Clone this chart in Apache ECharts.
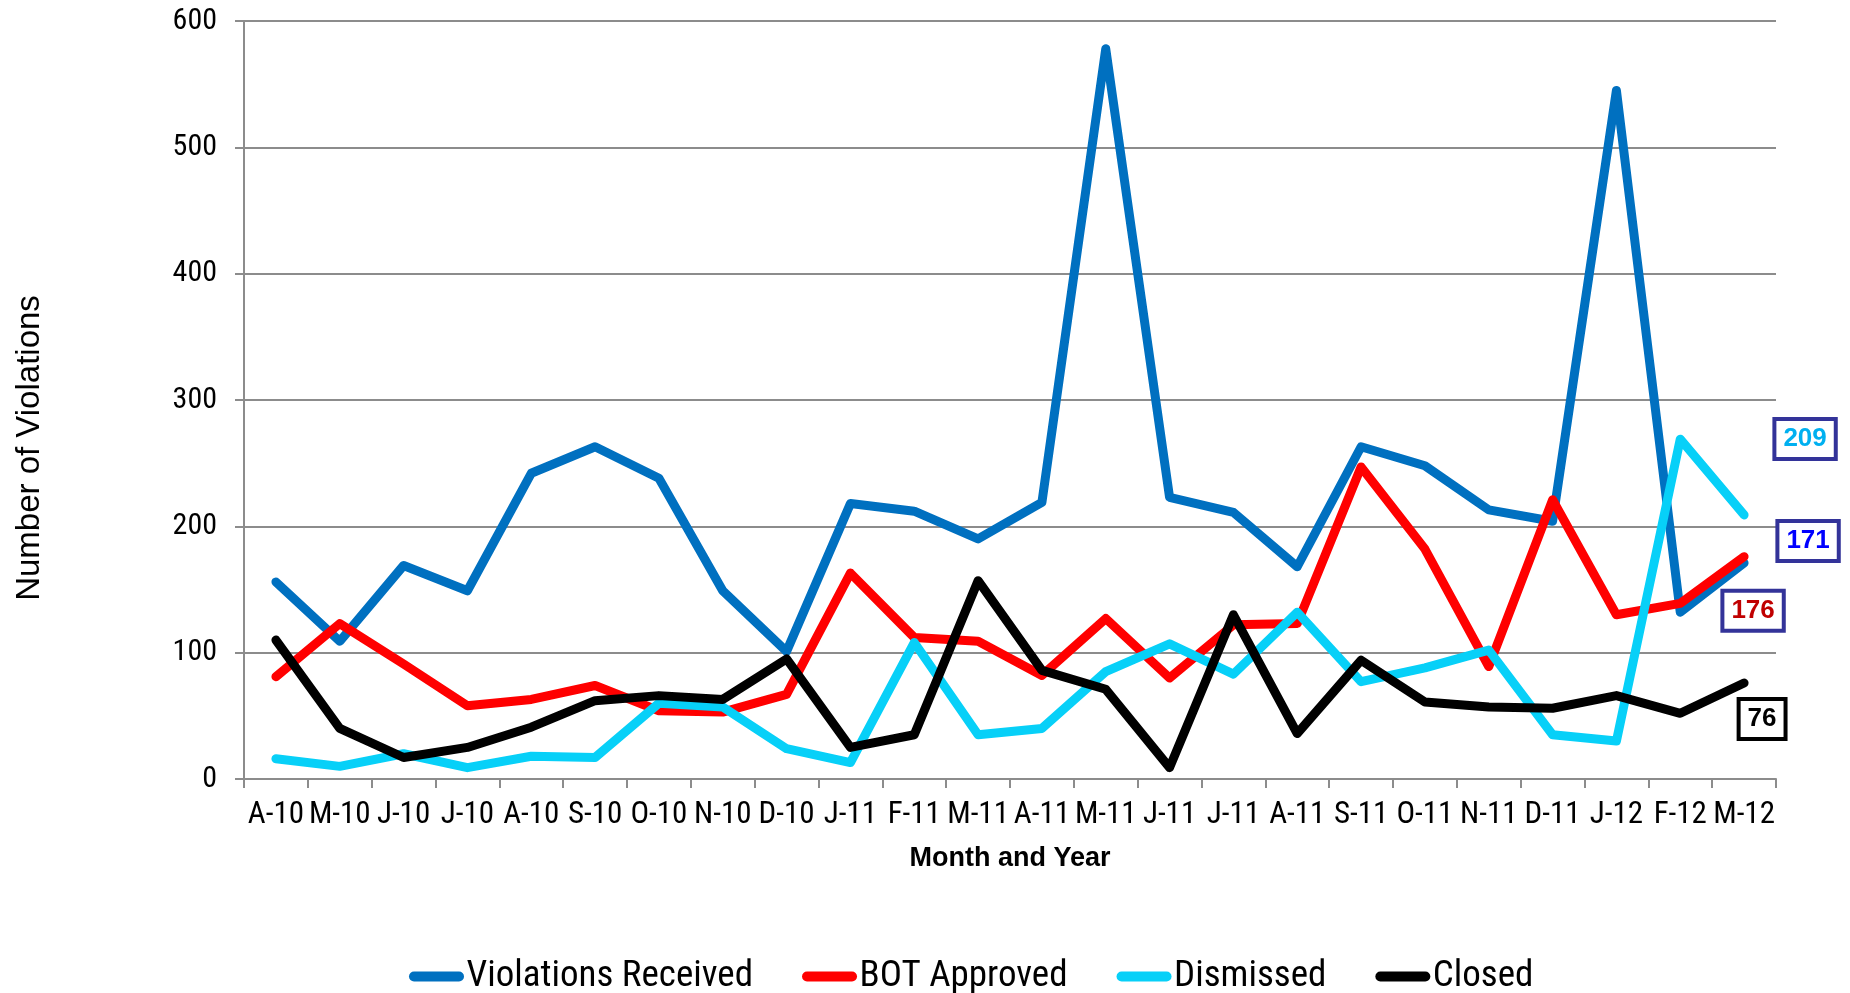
<!DOCTYPE html>
<html>
<head>
<meta charset="utf-8">
<script src="https://cdn.jsdelivr.net/npm/echarts@6/dist/echarts.min.js"></script>
<style>
	html, body { margin: 0; padding: 0; background: #fff; }
	#chart { width: 1850px; height: 993px; }
</style>
</head>
<body>
<div id="chart"></div>
<script>
var months = ['A-10', 'M-10', 'J-10', 'J-10', 'A-10', 'S-10', 'O-10', 'N-10', 'D-10', 'J-11', 'F-11', 'M-11',
	'A-11', 'M-11', 'J-11', 'J-11', 'A-11', 'S-11', 'O-11', 'N-11', 'D-11', 'J-12', 'F-12', 'M-12'];
var received = [156, 109, 169, 149, 242, 263, 238, 149, 101, 218, 212, 190, 219, 578, 223, 211, 168, 263, 248, 213, 204, 545, 132, 171];
var botApproved = [81, 123, 91, 58, 63, 74, 54, 53, 67, 163, 112, 109, 82, 127, 80, 122, 123, 247, 182, 89, 221, 130, 139, 176];
var dismissed = [16, 10, 20, 9, 18, 17, 60, 57, 24, 13, 108, 35, 40, 85, 107, 83, 132, 77, 88, 102, 35, 30, 269, 209];
// not "closed": that name is taken by window.closed
var closedCases = [110, 40, 17, 25, 41, 62, 66, 63, 95, 25, 35, 157, 86, 71, 9, 130, 36, 94, 61, 57, 56, 66, 52, 76];
var yTicks = [0, 100, 200, 300, 400, 500, 600];

// no narrow font installed by name, but Roboto has a width axis: squeeze it on every canvas
var fontDesc = Object.getOwnPropertyDescriptor(CanvasRenderingContext2D.prototype, 'font');
Object.defineProperty(CanvasRenderingContext2D.prototype, 'font', {
	get : fontDesc.get,
	set : function(v) {
		fontDesc.set.call(this, v);
		this.fontStretch = v.indexOf('Roboto') >= 0 ? 'semi-condensed' : 'normal';
	}
});

var narrow = 'Roboto, "Liberation Sans", sans-serif';
var arial = '"Liberation Sans", Arial, sans-serif';
var pill = 'path://M5,0 L50,0 A5,5 0 0 1 50,10 L5,10 A5,5 0 0 1 5,0 Z';

// boxed value on the last point of a series
function endBox(data, textColor, borderColor, offset) {
	var last = data.length - 1;
	return {
		silent : true,
		symbol : 'circle',
		symbolSize : 1,
		itemStyle : { color : 'transparent' },
		label : {
			show : true,
			position : 'inside',
			offset : offset,
			formatter : '{c}',
			fontFamily : arial,
			fontWeight : 'bold',
			fontSize : 26,
			lineHeight : 26,
			color : textColor,
			backgroundColor : '#fff',
			borderColor : borderColor,
			borderWidth : 4,
			padding : [ 6, 7, 4, 7 ]
		},
		data : [ { coord : [ last, data[last] ], value : data[last] } ]
	};
}

function lineSeries(name, data, color, box) {
	return {
		name : name,
		type : 'line',
		data : data,
		showSymbol : false,
		symbol : 'none',
		lineStyle : { width : 9, color : color, join : 'round', cap : 'round' },
		itemStyle : { color : color },
		markPoint : box
	};
}

var myChart = echarts.init(document.getElementById('chart'));
var option = {
	animation : false,
	backgroundColor : '#fff',
	grid : { left : 244, right : 74, top : 21, bottom : 214 },
	legend : {
		left : 404,
		top : 953,
		itemWidth : 56,
		itemHeight : 10,
		itemGap : 49,
		icon : pill,
		textStyle : { fontFamily : narrow, fontSize : 37, color : '#000', padding : [ 0, 0, 0, -3 ] },
		data : [ 'Violations Received', 'BOT Approved', 'Dismissed', 'Closed' ]
	},
	xAxis : {
		type : 'category',
		data : months,
		boundaryGap : true,
		name : 'Month and Year',
		nameLocation : 'middle',
		nameGap : 66,
		nameTextStyle : { fontFamily : arial, fontWeight : 'bold', fontSize : 27, color : '#000' },
		axisLine : { lineStyle : { color : '#8c8c8c', width : 2 } },
		axisTick : { show : true, interval : 0, length : 9, lineStyle : { color : '#8c8c8c', width : 2 } },
		axisLabel : { interval : 0, margin : 21, fontFamily : narrow, fontSize : 31, color : '#000' },
		splitLine : { show : false }
	},
	yAxis : {
		type : 'value',
		min : yTicks[0],
		max : yTicks[yTicks.length - 1],
		interval : 100,
		name : 'Number of Violations',
		nameLocation : 'middle',
		nameGap : 198,
		// right padding pushes the rotated title down, as in the original
		nameTextStyle : { fontFamily : arial, fontSize : 33, color : '#000', padding : [ 0, 96, 0, 0 ] },
		axisLine : { show : true, lineStyle : { color : '#8c8c8c', width : 2 } },
		axisTick : { show : true, length : 9, lineStyle : { color : '#8c8c8c', width : 2 } },
		axisLabel : { margin : 27, fontFamily : narrow, fontSize : 30, color : '#000' },
		splitLine : { show : true, lineStyle : { color : '#8c8c8c', width : 2 } }
	},
	series : [
		lineSeries('Violations Received', received, '#0070C0', endBox(received, '#0000FF', '#333399', [ 64, -22 ])),
		lineSeries('BOT Approved', botApproved, '#FF0000', endBox(botApproved, '#C00000', '#333399', [ 9, 54 ])),
		lineSeries('Dismissed', dismissed, '#07D0F8', endBox(dismissed, '#00B0F0', '#333399', [ 61, -76 ])),
		lineSeries('Closed', closedCases, '#000000', endBox(closedCases, '#000000', '#000000', [ 18, 36 ]))
	]
};
myChart.setOption(option);
</script>
</body>
</html>
